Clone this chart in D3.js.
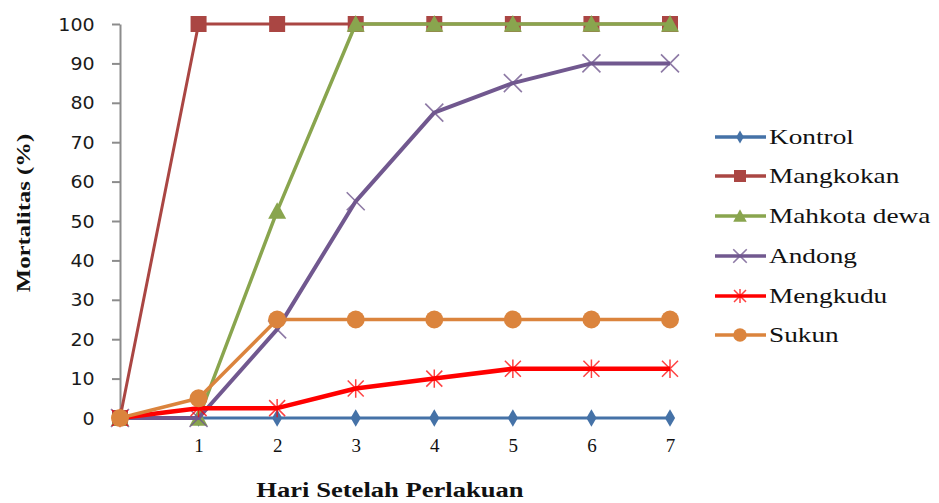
<!DOCTYPE html>
<html><head><meta charset="utf-8">
<script src="https://cdn.jsdelivr.net/npm/d3@7"></script>
<style>body{margin:0;background:#fff;} svg{display:block;}</style>
</head><body>
<svg id="c" width="939" height="503"></svg>
<script>
const days = [0,1,2,3,4,5,6,7];
const xTickLabels = ["1","2","3","4","5","6","7"];
const yTicks = [0,10,20,30,40,50,60,70,80,90,100];
const seriesNames = ["Kontrol","Mangkokan","Mahkota dewa","Andong","Mengkudu","Sukun"];
const kontrol     = [0,0,0,0,0,0,0,0];
const mangkokan   = [0,100,100,100,100,100,100,100];
const mahkotaDewa = [0,0,52.5,100,100,100,100,100];
const andong      = [0,0,22.5,55,77.5,85,90,90];
const mengkudu    = [0,2.5,2.5,7.5,10,12.5,12.5,12.5];
const sukun       = [0,5,25,25,25,25,25,25];
const seriesValues = [kontrol,mangkokan,mahkotaDewa,andong,mengkudu,sukun];
const colors = ["#4572A7","#AA4643","#89A54E","#71588F","#FF0000","#DB843D"];
const markers = ["diamond","square","triangle","x","star","circle"];
const widths = [3,3,3.5,4,4.5,3.5];

const svg = d3.select("#c");
const x = d3.scaleLinear().domain([0,7]).range([120,670]);
const y = d3.scaleLinear().domain([0,100]).range([418,24]);

// y axis
const ya = svg.append("g").attr("transform","translate(120,0)")
  .call(d3.axisLeft(y).tickValues(yTicks).tickSize(8).tickPadding(14).tickSizeOuter(0));
ya.select(".domain").attr("stroke","#8c8c8c").attr("stroke-width",2);
ya.selectAll(".tick line").attr("stroke","#8c8c8c").attr("stroke-width",2);
ya.selectAll(".tick text").attr("font-family","DejaVu Sans").attr("font-size",17)
  .attr("fill","#1a1a1a").attr("dy","0.36em")
  .each(function(){ const t=d3.select(this); const xx=+t.attr("x"); t.attr("transform",`scale(1.12,1)`).attr("x",xx/1.12-3); });

// x axis (no line)
const xa = svg.append("g").attr("transform","translate(0,418)")
  .call(d3.axisBottom(x).tickValues([1,2,3,4,5,6,7]).tickFormat((d,i)=>xTickLabels[i]).tickSize(0).tickPadding(30));
xa.select(".domain").remove();
xa.selectAll(".tick text").attr("font-family","Liberation Serif").attr("font-size",19).attr("fill","#111")
  .attr("dy","0.2em");

// axis titles
svg.append("text").attr("transform","translate(390,497) scale(1.33,1)")
  .attr("text-anchor","middle").attr("font-family","Liberation Serif").attr("font-weight","bold")
  .attr("font-size",20).attr("fill","#111").text("Hari Setelah Perlakuan");
svg.append("text").attr("transform","translate(30,213) rotate(-90) scale(1.3,1)")
  .attr("text-anchor","middle").attr("font-family","Liberation Serif").attr("font-weight","bold")
  .attr("font-size",19).attr("fill","#111").text("Mortalitas (%)");

function drawMarker(g, type, cx, cy, color, scale){
  const s = scale||1;
  if(type==="diamond"){
    g.append("path").attr("d",d3.symbol(d3.symbolDiamond, 90*s*s)()).attr("transform",`translate(${cx},${cy})`).attr("fill",color);
  } else if(type==="square"){
    const h=8*s; g.append("rect").attr("x",cx-h).attr("y",cy-h).attr("width",2*h).attr("height",2*h).attr("fill",color);
  } else if(type==="triangle"){
    const h=9*s; g.append("path").attr("d",`M${cx},${cy-h}L${cx+h},${cy+h*0.85}L${cx-h},${cy+h*0.85}Z`).attr("fill",color);
  } else if(type==="x"){
    const h=9*s; g.append("path").attr("d",`M${cx-h},${cy-h}L${cx+h},${cy+h}M${cx-h},${cy+h}L${cx+h},${cy-h}`)
      .attr("stroke",color).attr("stroke-width",1.6).attr("fill","none").attr("opacity",0.8);
  } else if(type==="star"){
    const h=8*s; g.append("path").attr("d",`M${cx-h},${cy-h}L${cx+h},${cy+h}M${cx-h},${cy+h}L${cx+h},${cy-h}M${cx},${cy-h*1.15}L${cx},${cy+h*1.15}`)
      .attr("stroke",color).attr("stroke-width",1.5).attr("fill","none").attr("opacity",0.75);
  } else if(type==="circle"){
    g.append("circle").attr("cx",cx).attr("cy",cy).attr("r",9*s).attr("fill",color);
  }
}

const line = d3.line().x((d,i)=>x(days[i])).y(d=>y(d));
seriesValues.forEach((vals,si)=>{
  const g = svg.append("g");
  g.append("path").attr("d",line(vals)).attr("fill","none").attr("stroke",colors[si])
    .attr("stroke-width",widths[si]).attr("stroke-linejoin","round");
  vals.forEach((v,i)=>drawMarker(g, markers[si], x(days[i]), y(v), colors[si], 1));
});

// legend
const legY = [137,176,216,256,296,335];
seriesNames.forEach((n,i)=>{
  const g = svg.append("g");
  g.append("line").attr("x1",715).attr("x2",766).attr("y1",legY[i]).attr("y2",legY[i])
    .attr("stroke",colors[i]).attr("stroke-width",3.5);
  drawMarker(g, markers[i], 740, legY[i], colors[i], 0.75);
  g.append("text").attr("transform",`translate(769,${legY[i]+7}) scale(1.3,1)`)
    .attr("font-family","Liberation Serif").attr("font-size",21).attr("fill","#111").text(n);
});
</script>
</body></html>
